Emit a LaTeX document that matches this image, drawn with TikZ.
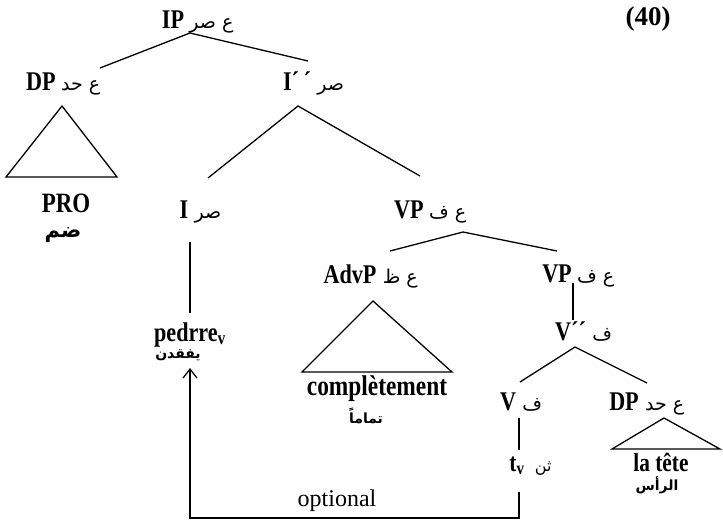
\documentclass[tikz,border=0pt]{standalone}
\usepackage{fontspec}
\setmainfont{Liberation Serif}[FakeStretch=0.82]
\newfontfamily\plainserif{Liberation Serif}
\newfontfamily\arabicfont[Script=Arabic]{DejaVu Sans}
\TeXXeTstate=1
\usetikzlibrary{arrows.meta}
\begin{document}
\begin{tikzpicture}[x=1pt,y=-1pt,
  lab/.style={font=\bfseries\fontsize{27}{29}\selectfont, inner sep=0pt, anchor=base},
  word/.style={font=\bfseries\fontsize{26}{28}\selectfont, inner sep=0pt, anchor=base},
  ar/.style={font=\arabicfont\fontsize{19}{22}\selectfont, inner sep=0pt, anchor=base west, xshift=5pt},
  gloss/.style={font=\arabicfont\bfseries\fontsize{14}{16}\selectfont, inner sep=0pt, anchor=base},
  br/.style={line width=1.3pt},
  tri/.style={line width=1.3pt, line join=miter}]
\useasboundingbox (0,0) rectangle (723,522);

% labels
\node[lab] (IP) at (173,28) {IP};
\node[ar] (IPa) at (IP.base east) {\beginR ع صر\endR};
\node[lab] (DP) at (41,90) {DP};
\node[ar] (DPa) at (DP.base east) {\beginR ع حد\endR};
\node[lab] (Ibar) at (297,90) {I´\,´};
\node[ar,xshift=1pt] (Ibara) at (Ibar.base east) {\beginR صر\endR};
\node[lab] (I) at (184,218) {I};
\node[ar,xshift=1pt] (Ia) at (I.base east) {\beginR صر\endR};
\node[lab] (VP) at (409,218) {VP};
\node[ar] (VPa) at (VP.base east) {\beginR ع ف\endR};
\node[lab] (AdvP) at (350,283) {AdvP};
\node[ar,xshift=1pt] (AdvPa) at (AdvP.base east) {\beginR ع ظ\endR};
\node[lab] (VPb) at (557,282) {VP};
\node[ar] (VPba) at (VPb.base east) {\beginR ع ف\endR};
\node[lab,anchor=base west] (Vbar) at (555,340) {V´´};
\node[ar,xshift=1pt] (Vbara) at (Vbar.base east) {\beginR ف\endR};
\node[lab] (V) at (508,410) {V};
\node[ar,xshift=1pt] (Va) at (V.base east) {\beginR ف\endR};
\node[lab] (DPb) at (624,410) {DP};
\node[ar,xshift=1pt] (DPba) at (DPb.base east) {\beginR ع حد\endR};

\node[word,font=\bfseries\fontsize{28}{30}\selectfont] (PRO) at (66,212) {PRO};
\node[gloss,font=\arabicfont\bfseries\fontsize{21}{24}\selectfont] (PROa) at (63,237) {\beginR ضم\endR};
\node[word,font=\bfseries\fontsize{27}{29}\selectfont] (ped) at (190,341) {pedrre\textsubscript{v}};
\node[gloss] (peda) at (178,358) {\beginR يفقدن\endR};
\node[word,font=\bfseries\fontsize{28.5}{30}\selectfont] (comp) at (377,395) {complètement};
\node[gloss] (compa) at (366,423) {\beginR تماماً\endR};
\node[word] (tv) at (517,471) {t\textsubscript{v}};
\node[ar,xshift=5pt,font=\arabicfont\fontsize{16}{18}\selectfont] (tva) at (tv.base east) {\beginR ثن\endR};
\node[word] (tete) at (661,471) {la tête};
\node[gloss] (tetea) at (657,490) {\beginR الرأس\endR};
\node[inner sep=0pt, anchor=base, font=\plainserif\fontsize{24}{26}\selectfont] (opt) at (337,506) {optional};
\node[inner sep=0pt, anchor=base, font=\plainserif\bfseries\fontsize{27}{29}\selectfont] (num) at (648,25) {(40)};

% branch points
\coordinate (ipT) at (190,33);
\coordinate (ipL) at (100,68);
\coordinate (ipR) at (308,61);
\coordinate (ibT) at (298,106);
\coordinate (ibL) at (208,178);
\coordinate (ibR) at (420,176);
\coordinate (iT) at (190,242);
\coordinate (iB) at (190,313);
\coordinate (vpT) at (463,232);
\coordinate (vpL) at (390,251);
\coordinate (vpR) at (557,251);
\coordinate (vbT) at (573,283);
\coordinate (vbB) at (573,320);
\coordinate (vvT) at (575,347);
\coordinate (vvL) at (520,382);
\coordinate (vvR) at (647,383);
\coordinate (vT) at (519,418);
\coordinate (vB) at (519,450);
\coordinate (mvA) at (519,492);
\coordinate (mvB) at (519,518);
\coordinate (mvC) at (190,518);
\coordinate (mvD) at (190,368);

\draw[br] (ipL) -- (ipT) -- (ipR);
\draw[br] (ibL) -- (ibT) -- (ibR);
\draw[br] (iT) -- (iB);
\draw[br] (vpL) -- (vpT) -- (vpR);
\draw[br] (vbT) -- (vbB);
\draw[br] (vvL) -- (vvT) -- (vvR);
\draw[br] (vT) -- (vB);

% triangles
\draw[tri] (62,106) -- (6,177) -- (117,177) -- cycle;
\draw[tri] (373,301) -- (302,372) -- (452,372) -- cycle;
\draw[tri] (664,418) -- (612,449) -- (720,449) -- cycle;

% movement arrow
\draw[br,-{Straight Barb[length=9pt,width=14pt,line width=1.3pt]}] (mvA) -- (mvB) -- (mvC) -- (mvD);
\end{tikzpicture}
\end{document}
